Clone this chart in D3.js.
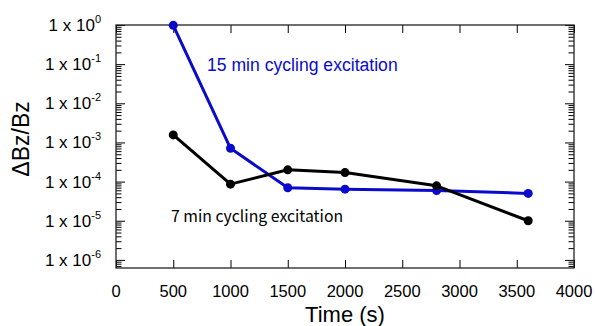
<!DOCTYPE html>
<html>
<head>
<meta charset="utf-8">
<script src="https://cdn.jsdelivr.net/npm/d3@7"></script>
<style>
  html, body { margin: 0; padding: 0; background: #fff; }
  svg { display: block; }
</style>
</head>
<body>
<div id="root"></div>
<script>
const WIDTH = 595
const HEIGHT = 326
const LEFT = 116
const RIGHT = 574
const TOP = 25
const BOTTOM = 268

const times = [500, 1000, 1500, 2000, 2800, 3600]
const cycling15 = [0.98, 7.1e-4, 6.95e-5, 6.4e-5, 5.9e-5, 5.0e-5]
const cycling7 = [1.56e-3, 8.6e-5, 2.0e-4, 1.7e-4, 7.8e-5, 1.0e-5]

const xTicks = [0, 500, 1000, 1500, 2000, 2500, 3000, 3500, 4000]
const yExponents = [0, -1, -2, -3, -4, -5, -6]

const series = [
  { label: '15 min cycling excitation', values: cycling15, color: '#0a0acd' },
  { label: '7 min cycling excitation', values: cycling7, color: '#000000' }
]

const xScale = d3.scaleLinear()
  .domain([0, 4000])
  .range([LEFT, RIGHT])

const yScale = d3.scaleLog()
  .domain([6.21e-7, 1])
  .range([BOTTOM, TOP])

const svg = d3.select('#root')
  .append('svg')
  .attr('width', WIDTH)
  .attr('height', HEIGHT)
  .style('font-family', '"Liberation Sans", Arial, sans-serif')

// minor ticks for the log axis
const minorTicks = []
for (let e = -7; e < 0; e++) {
  for (let m = 2; m <= 9; m++) {
    const v = m * Math.pow(10, e)
    if (v >= yScale.domain()[0] && v <= 1) minorTicks.push(v)
  }
}
const majorTicks = yExponents.map(e => Math.pow(10, e))

const yLeft = d3.axisRight(yScale).tickValues(majorTicks).tickSize(9).tickFormat('')
const yLeftMinor = d3.axisRight(yScale).tickValues(minorTicks).tickSize(5.5).tickFormat('')
const yRight = d3.axisLeft(yScale).tickValues(majorTicks).tickSize(9).tickFormat('')
const yRightMinor = d3.axisLeft(yScale).tickValues(minorTicks).tickSize(5.5).tickFormat('')

const xBottom = d3.axisTop(xScale).tickValues(xTicks).tickSize(8).tickFormat('')
const xTop = d3.axisBottom(xScale).tickValues(xTicks).tickSize(8).tickFormat('')

function styleAxis(g) {
  g.select('.domain').remove()
  g.selectAll('.tick line').attr('stroke', '#000').attr('stroke-width', 1)
}

svg.append('g').attr('transform', `translate(${LEFT},0)`).call(yLeft).call(styleAxis)
svg.append('g').attr('transform', `translate(${LEFT},0)`).call(yLeftMinor).call(styleAxis)
svg.append('g').attr('transform', `translate(${RIGHT},0)`).call(yRight).call(styleAxis)
svg.append('g').attr('transform', `translate(${RIGHT},0)`).call(yRightMinor).call(styleAxis)
svg.append('g').attr('transform', `translate(0,${BOTTOM})`).call(xBottom).call(styleAxis)
svg.append('g').attr('transform', `translate(0,${TOP})`).call(xTop).call(styleAxis)

// frame
svg.append('rect')
  .attr('x', LEFT)
  .attr('y', TOP)
  .attr('width', RIGHT - LEFT)
  .attr('height', BOTTOM - TOP)
  .attr('fill', 'none')
  .attr('stroke', '#222')
  .attr('stroke-width', 1.3)

// x tick labels
svg.append('g')
  .selectAll('text')
  .data(xTicks)
  .enter()
  .append('text')
  .attr('x', d => xScale(d))
  .attr('y', 297)
  .attr('text-anchor', 'middle')
  .style('font-size', '16.5px')
  .text(d => d)

// y tick labels "1 x 10^n"
const yLabels = svg.append('g')
  .selectAll('text')
  .data(yExponents)
  .enter()
  .append('text')
  .attr('x', 101)
  .attr('y', d => yScale(Math.pow(10, d)) + 6)
  .attr('text-anchor', 'end')
  .style('font-size', '17px')

yLabels.append('tspan').text('1 x 10')
yLabels.append('tspan')
  .attr('dy', -8)
  .style('font-size', '11px')
  .text(d => d)

// axis titles
svg.append('text')
  .attr('transform', 'translate(29,139) rotate(-90)')
  .attr('text-anchor', 'middle')
  .style('font-size', '23px')
  .text('ΔBz/Bz')

svg.append('text')
  .attr('x', 345)
  .attr('y', 322)
  .attr('text-anchor', 'middle')
  .style('font-size', '22px')
  .text('Time (s)')

// series
const line = d3.line()
  .x((d, i) => xScale(times[i]))
  .y(d => yScale(d))

series.forEach(s => {
  svg.append('path')
    .datum(s.values)
    .attr('fill', 'none')
    .attr('stroke', s.color)
    .attr('stroke-width', 3)
    .attr('stroke-linejoin', 'round')
    .attr('d', line)

  svg.append('g')
    .selectAll('circle')
    .data(s.values)
    .enter()
    .append('circle')
    .attr('cx', (d, i) => xScale(times[i]))
    .attr('cy', d => yScale(d))
    .attr('r', 4.5)
    .attr('fill', s.color)
})

// series annotations
svg.append('text')
  .attr('x', 207)
  .attr('y', 71)
  .style('font-size', '17.6px')
  .attr('fill', series[0].color)
  .text(series[0].label)

svg.append('text')
  .attr('x', 171)
  .attr('y', 221.5)
  .style('font-family', '"Noto Sans CJK JP", sans-serif')
  .style('font-size', '15.8px')
  .attr('fill', series[1].color)
  .text(series[1].label)
</script>
</body>
</html>
